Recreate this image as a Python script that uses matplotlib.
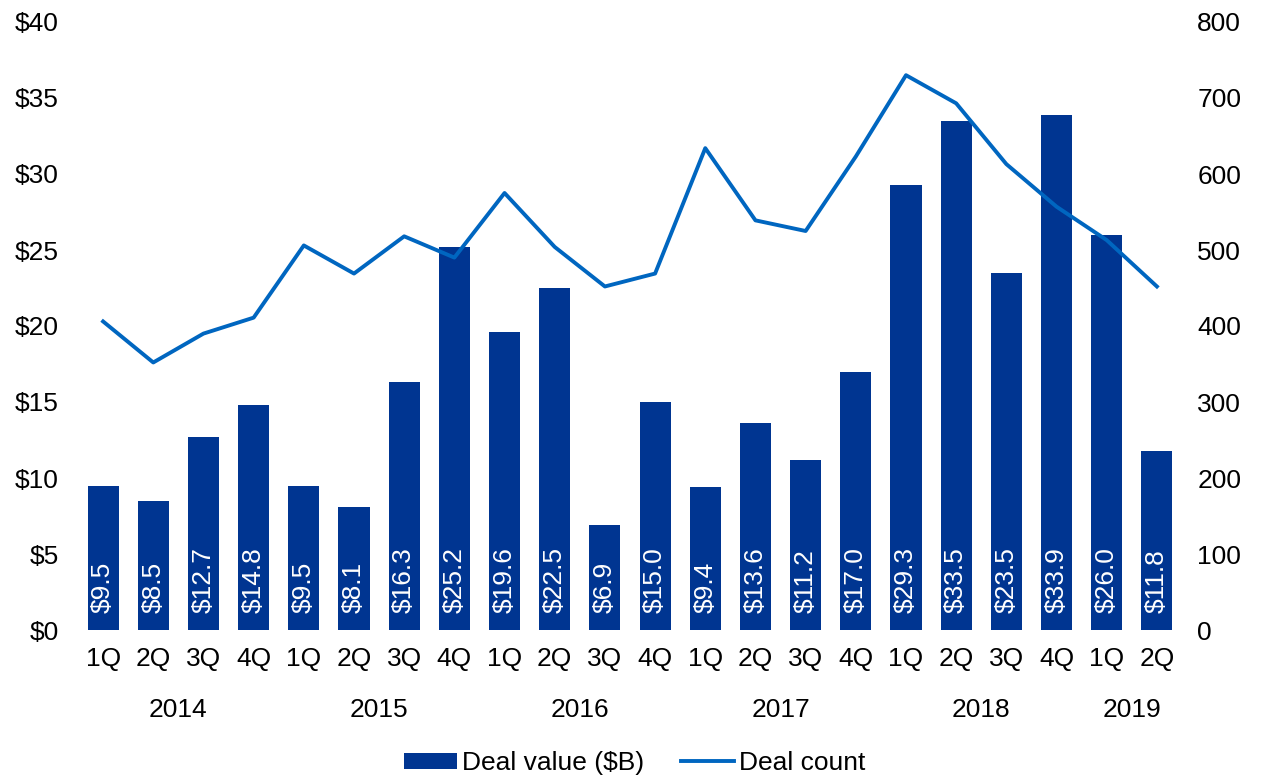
import numpy as np
import matplotlib
matplotlib.use("Agg")
import matplotlib.pyplot as plt
import matplotlib.transforms as mtransforms

plt.rcParams['font.family'] = ['Liberation Sans', 'DejaVu Sans']

# -----------------------------
# data
# -----------------------------
quarters = ["1Q", "2Q", "3Q", "4Q", "1Q", "2Q", "3Q", "4Q", "1Q", "2Q", "3Q", "4Q",
            "1Q", "2Q", "3Q", "4Q", "1Q", "2Q", "3Q", "4Q", "1Q", "2Q"]
years = ["2014", "2015", "2016", "2017", "2018", "2019"]
quarters_per_year = [4, 4, 4, 4, 4, 2]
deal_value = [9.5, 8.5, 12.7, 14.8, 9.5, 8.1, 16.3, 25.2, 19.6, 22.5, 6.9, 15.0,
              9.4, 13.6, 11.2, 17.0, 29.3, 33.5, 23.5, 33.9, 26.0, 11.8]
deal_count = [406, 352, 390, 411, 506, 469, 518, 490, 575, 504, 452, 469,
              634, 539, 525, 623, 730, 693, 613, 557, 513, 452]

BAR_COLOR = "#003591"
LINE_COLOR = "#0066C0"
FS = 19

fig = plt.figure(figsize=(12.64, 7.79), dpi=100)
ax = fig.add_axes([78 / 1264, 149 / 779, 1104 / 1264, 608 / 779])
ax2 = ax.twinx()

x = np.arange(len(deal_value))
bars = ax.bar(x, deal_value, width=0.62, color=BAR_COLOR, label="Deal value ($B)", zorder=2)
line, = ax2.plot(x, deal_count, color=LINE_COLOR, lw=2.8, label="Deal count", zorder=3)

ax.set_zorder(ax2.get_zorder() - 1)
ax.patch.set_visible(False)
ax2.patch.set_visible(False)

# bar labels inside, rotated
for xi, v in zip(x, deal_value):
    ax.annotate(f"${v:.1f}", (xi, 0), xytext=(0, 12), textcoords="offset points",
                rotation=90, ha="center", va="bottom", color="white", fontsize=FS)

ax.set_xlim(-0.5, len(x) - 0.5)
ax.set_ylim(0, 40)
ax2.set_ylim(0, 800)
ax.set_yticks(np.arange(0, 41, 5))
ax.set_yticklabels([f"${v}" for v in range(0, 41, 5)])
ax2.set_yticks(np.arange(0, 801, 100))

ax.set_xticks(x)
ax.set_xticklabels(quarters)

ax.tick_params(axis="x", length=0, pad=12, labelsize=FS)
ax.tick_params(axis="y", length=0, pad=14, labelsize=FS)
ax2.tick_params(axis="y", length=0, pad=11, labelsize=FS)

for a in (ax, ax2):
    for s in a.spines.values():
        s.set_visible(False)

# year labels under quarter groups
trans = mtransforms.blended_transform_factory(ax.transData, ax.transAxes)
start = 0
for yr, n in zip(years, quarters_per_year):
    center = start + (n - 1) / 2
    ax.text(center, -0.1316, yr, transform=trans, ha="center", va="center", fontsize=FS)
    start += n

fig.legend([bars, line], ["Deal value ($B)", "Deal count"], loc="center",
           bbox_to_anchor=(635 / 1264, 1 - 763 / 779), ncol=2, frameon=False,
           fontsize=FS, handlelength=2.0, handleheight=0.57, handletextpad=0.2,
           columnspacing=1.4, borderpad=0.2)

fig.savefig("out.png", dpi=100)
